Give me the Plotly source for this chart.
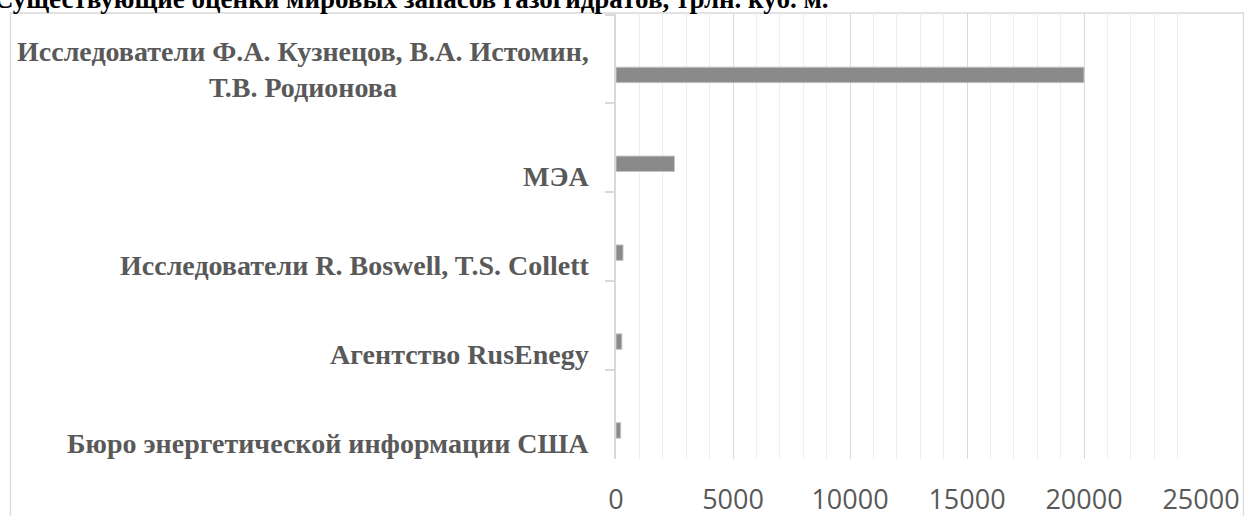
import plotly.graph_objects as go

# Estimates of world gas hydrate reserves, trillion cubic metres
categories = [
    "Исследователи Ф.А. Кузнецов, В.А. Истомин,<br>Т.В. Родионова",
    "МЭА",
    "Исследователи R. Boswell, T.S. Collett",
    "Агентство RusEnegy",
    "Бюро энергетической информации США",
]
values = [20000, 2500, 300, 250, 200]
x_ticks = [0, 5000, 10000, 15000, 20000, 25000]
title_text = "Существующие оценки мировых запасов газогидратов, трлн. куб. м."

W, H = 1244, 516
ML, MR, MT, MB = 616, 43, 13, 57
PW = W - ML - MR
PH = H - MT - MB

label_font = dict(family="Liberation Serif", size=28, color="#595959")

fig = go.Figure()
fig.add_trace(go.Bar(
    x=values,
    y=categories,
    orientation="h",
    width=0.174,
    offset=0.092,
    marker=dict(color="#8a8a8a", line=dict(color="#c4c4c4", width=1)),
    hoverinfo="x+y",
))

# Category labels placed to the left of the axis
annotations = []
for cat in categories:
    annotations.append(dict(
        text="<b>" + cat + "</b>",
        x=0, xref="paper", xanchor="right", xshift=-25,
        y=cat, yref="y", yanchor="bottom", yshift=-46,
        align="center", showarrow=False, font=label_font,
    ))

# Chart title (partly above the page edge)
annotations.append(dict(
    text="<b>" + title_text + "</b>",
    x=(-8 - ML) / PW, xref="paper", xanchor="left",
    y=1, yref="paper", yanchor="bottom", yshift=-3,
    showarrow=False,
    font=dict(family="Liberation Serif", size=27, color="#000000"),
))

fig.update_layout(
    width=W, height=H,
    margin=dict(l=ML, r=MR, t=MT, b=MB, pad=0, autoexpand=False),
    paper_bgcolor="white", plot_bgcolor="white",
    showlegend=False,
    annotations=annotations,
    shapes=[dict(
        type="rect", xref="paper", yref="paper",
        x0=(10.5 - ML) / PW, x1=(1243.5 - ML) / PW,
        y0=-0.3, y1=1.0,
        line=dict(color="#d9d9d9", width=1.3),
        fillcolor="rgba(0,0,0,0)", layer="below",
    )],
    xaxis=dict(
        range=[0, 25000],
        tickvals=x_ticks,
        ticktext=[str(v) for v in x_ticks],
        showgrid=True, gridcolor="#d9d9d9", gridwidth=1.3,
        minor=dict(dtick=1000, showgrid=True, gridcolor="#eeeeee", gridwidth=1),
        zeroline=False, showline=False,
        ticks="", ticklabelstandoff=22, automargin=False,
        tickfont=dict(family="Open Sans", size=27, color="#595959"),
    ),
    yaxis=dict(
        type="category",
        categoryorder="array", categoryarray=categories,
        autorange="reversed",
        showticklabels=False, automargin=False,
        showgrid=False, zeroline=False,
        showline=True, linecolor="#d9d9d9", linewidth=1.5,
        ticks="outside", ticklen=9, tickcolor="#d9d9d9", tickwidth=1.5,
        tickson="boundaries",
    ),
)

fig.write_html("out.html")
